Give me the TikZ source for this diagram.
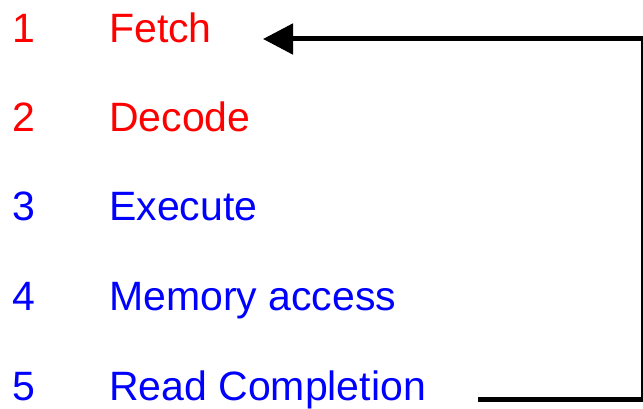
\documentclass[tikz,border=0pt]{standalone}
\usepackage{fontspec}
\setmainfont{Liberation Sans}
\usetikzlibrary{arrows.meta}
\definecolor{stagered}{RGB}{255,0,0}
\definecolor{stageblue}{RGB}{0,0,255}
\tikzset{
  lbl/.style={anchor=base west, inner sep=0pt, font=\fontsize{41}{41}\selectfont},
  redlbl/.style={lbl, text=stagered},
  bluelbl/.style={lbl, text=stageblue},
  loopline/.style={line width=5pt, black, miter limit=10,
    -{Triangle[length=30pt,width=30pt]}}
}
\begin{document}
\begin{tikzpicture}[x=1pt,y=-1pt]
  \useasboundingbox (0,0) rectangle (643,409);
  \clip (0,0) rectangle (643,409);
  % pipeline stages
  \node[redlbl]  (n1) at (12,43)  {1};
  \node[redlbl]  (s1) at (109,43) {Fetch};
  \node[redlbl]  (n2) at (12,132) {2};
  \node[redlbl]  (s2) at (109,132) {Decode};
  \node[bluelbl] (n3) at (12,221) {3};
  \node[bluelbl] (s3) at (109,221) {Execute};
  \node[bluelbl] (n4) at (12,310) {4};
  \node[bluelbl] (s4) at (109,310) {Memory access};
  \node[bluelbl] (n5) at (12,400) {5};
  \node[bluelbl] (s5) at (109,400) {Read Completion};
  % feedback loop back to fetch
  \coordinate (loopout) at (478,399.5);
  \coordinate (loopin)  at (263,39);
  \draw[loopline] (loopout) -- ++(165.5,0) |- (loopin);
\end{tikzpicture}
\end{document}
